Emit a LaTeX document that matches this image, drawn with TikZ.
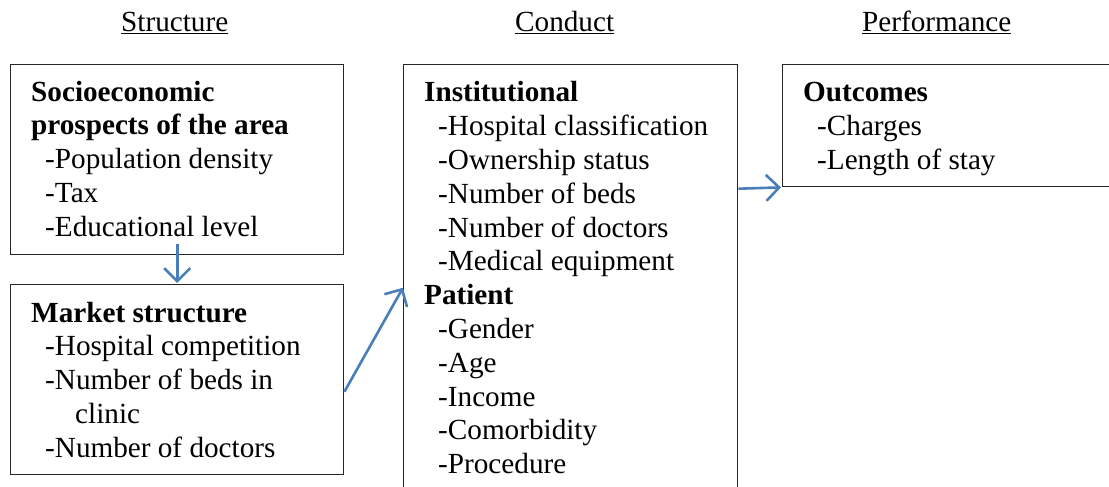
\documentclass[tikz,border=0pt]{standalone}
\usepackage{fontspec}
\setmainfont{Liberation Serif}
\usetikzlibrary{arrows.meta}
\definecolor{arrowblue}{HTML}{4A7EBB}
\definecolor{boxline}{HTML}{262626}
\newcommand{\bodyfont}{\fontsize{29.2pt}{33.8pt}\selectfont}
\tikzset{
  panel/.style={draw=boxline, line width=1.4pt, anchor=north west, inner sep=0pt},
  body/.style={anchor=base west, inner sep=0pt, font=\bodyfont},
  head/.style={anchor=base west, inner sep=0pt, font=\bodyfont},
  link/.style={draw=arrowblue, line width=2.6pt,
    -{Straight Barb[length=13pt,width=26pt]}},
}
\newcommand{\itm}[1]{\hspace*{14pt}-#1}
\begin{document}
\begin{tikzpicture}[x=1pt,y=-1pt]
  \useasboundingbox (0,0) rectangle (1109,487);
  \clip (0,0) rectangle (1109,487);

  % column headings
  \node[head] (hs) at (121,32) {\underline{Structure}};
  \node[head] (hc) at (515,32) {\underline{Conduct}};
  \node[head] (hp) at (862,32) {\underline{Performance}};

  % boxes
  \node[panel, minimum width=333pt, minimum height=190pt] (s1) at (10,64) {};
  \node[panel, minimum width=333pt, minimum height=190pt] (s2) at (10,284) {};
  \node[panel, minimum width=334pt, minimum height=440pt] (c3) at (403,64) {};
  \node[panel, minimum width=335pt, minimum height=122pt] (p4) at (782,64) {};

  % box contents
  \node[body] (t1) at (31,101) {\parbox[t]{320pt}{\bodyfont
    \textbf{Socioeconomic}\\
    \textbf{prospects of the area}\\
    \itm{Population density}\\
    \itm{Tax}\\
    \itm{Educational level}}};
  \node[body] (t2) at (31,322) {\parbox[t]{320pt}{\bodyfont
    \textbf{Market structure}\\
    \itm{Hospital competition}\\
    \itm{Number of beds in}\\
    \hspace*{44pt}clinic\\
    \itm{Number of doctors}}};
  \node[body] (t3) at (424,102) {\parbox[t]{320pt}{\bodyfont
    \textbf{Institutional}\\
    \itm{Hospital classification}\\
    \itm{Ownership status}\\
    \itm{Number of beds}\\
    \itm{Number of doctors}\\
    \itm{Medical equipment}\\
    \textbf{Patient}\\
    \itm{Gender}\\
    \itm{Age}\\
    \itm{Income}\\
    \itm{Comorbidity}\\
    \itm{Procedure}}};
  \node[body] (t4) at (803,102) {\parbox[t]{300pt}{\bodyfont
    \textbf{Outcomes}\\
    \itm{Charges}\\
    \itm{Length of stay}}};

  % connectors
  \draw[link] ([yshift=11pt]s1.south) -- ([yshift=1pt]s2.north);
  \draw[link] ([yshift=-12pt]s2.east) -- ([yshift=-3pt]c3.west);
  \draw[link] ([yshift=96pt]c3.east) -- ([xshift=-1pt]p4.south west);
\end{tikzpicture}
\end{document}
